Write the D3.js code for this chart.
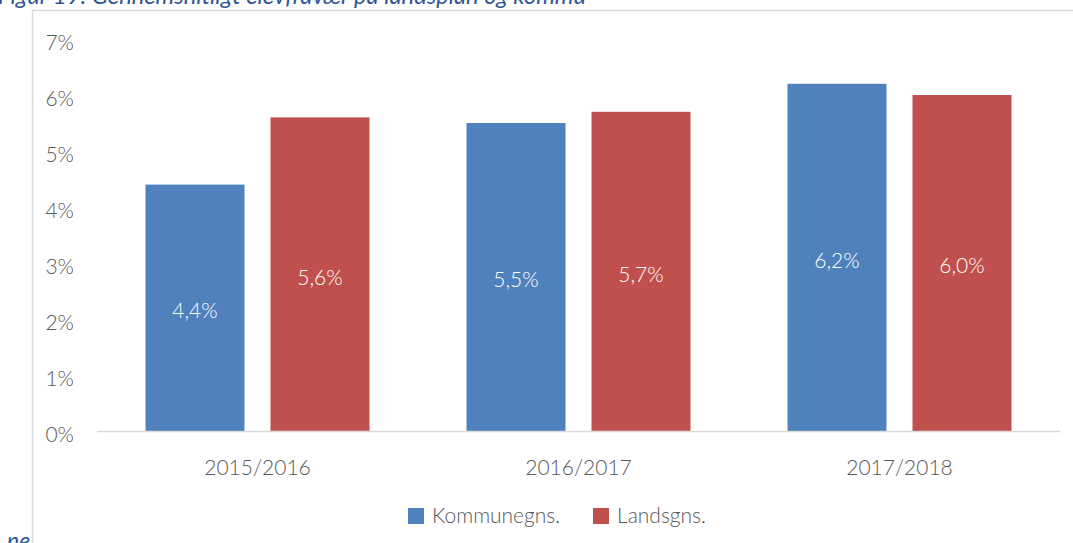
<!DOCTYPE html>
<html>
<head>
<meta charset="utf-8">
<script src="https://cdn.jsdelivr.net/npm/d3@7"></script>
<style>
    body { margin: 0; background: #fff; }
    svg { display: block; font-family: Lato, "Open Sans", sans-serif; font-weight: 300; }
</style>
</head>
<body>
<div id="chart"></div>
<script>
// Data
const years = ["2015/2016", "2016/2017", "2017/2018"];
const seriesNames = ["Kommunegns.", "Landsgns."];
const kommune = [4.4, 5.5, 6.2];
const lands = [5.6, 5.7, 6.0];
const yTicks = [0, 1, 2, 3, 4, 5, 6, 7];
const colors = ["#4f81bd", "#c0504d"];

const width = 1073;
const height = 543;
const fontSize = 21;

const svg = d3.select("#chart")
    .append("svg")
    .attr("width", width)
    .attr("height", height);

// Frame of the chart area (cut off by the crop)
svg.append("line")
    .attr("x1", 32.5).attr("x2", 32.5)
    .attr("y1", 10.5).attr("y2", height)
    .attr("stroke", "#d9d9d9").attr("stroke-width", 1.5);

svg.append("line")
    .attr("x1", 32.5).attr("x2", width)
    .attr("y1", 10.5).attr("y2", 10.5)
    .attr("stroke", "#d9d9d9").attr("stroke-width", 1.5);

// Caption fragments of the surrounding document
svg.append("text")
    .attr("x", -2)
    .attr("y", 4)
    .attr("font-style", "italic")
    .attr("font-weight", 400)
    .attr("font-size", 23)
    .attr("textLength", 588)
    .attr("lengthAdjust", "spacingAndGlyphs")
    .attr("fill", "#2f5597")
    .text("Figur 19: Gennemsnitligt elevfravær på landsplan og kommu");

svg.append("text")
    .attr("x", 7)
    .attr("y", 549)
    .attr("font-style", "italic")
    .attr("font-weight", 400)
    .attr("font-size", 23)
    .attr("fill", "#2f5597")
    .text("ne");

// Scales
const x0 = d3.scaleBand()
    .domain(years)
    .range([97, 1060]);

const x1 = d3.scaleBand()
    .domain(seriesNames)
    .range([0, x0.bandwidth()])
    .paddingInner(0.208)
    .paddingOuter(0.388);

const y = d3.scaleLinear()
    .domain([0, 7])
    .range([431, 39]);

const rows = years.map(function(year, i) {
    return {
        year: year,
        values: [
            { name: seriesNames[0], value: kommune[i] },
            { name: seriesNames[1], value: lands[i] }
        ]
    };
});

// Y tick labels
svg.append("g")
    .selectAll("text")
    .data(yTicks)
    .enter()
    .append("text")
    .attr("x", 74)
    .attr("y", function(d) { return y(d) + 4; })
    .attr("dy", "0.35em")
    .attr("text-anchor", "end")
    .attr("font-size", fontSize)
    .attr("fill", "#595959")
    .text(function(d) { return d + "%"; });

// Bars
const group = svg.append("g")
    .selectAll("g")
    .data(rows)
    .enter()
    .append("g")
    .attr("transform", function(d) { return "translate(" + x0(d.year) + ",0)"; });

group.selectAll("rect")
    .data(function(d) { return d.values; })
    .enter()
    .append("rect")
    .attr("x", function(d) { return x1(d.name); })
    .attr("y", function(d) { return y(d.value); })
    .attr("width", x1.bandwidth())
    .attr("height", function(d) { return y(0) - y(d.value); })
    .attr("fill", function(d, i) { return colors[i]; });

const fmt = d3.format(".1f");

group.selectAll("text")
    .data(function(d) { return d.values; })
    .enter()
    .append("text")
    .attr("x", function(d) { return x1(d.name) + x1.bandwidth() / 2; })
    .attr("y", function(d) { return (y(d.value) + y(0)) / 2 + 3; })
    .attr("dy", "0.35em")
    .attr("text-anchor", "middle")
    .attr("font-size", fontSize)
    .attr("fill", "#ffffff")
    .text(function(d) { return fmt(d.value).replace(".", ",") + "%"; });

// X axis line
svg.append("line")
    .attr("x1", x0.range()[0]).attr("x2", x0.range()[1])
    .attr("y1", y(0) + 0.5).attr("y2", y(0) + 0.5)
    .attr("stroke", "#d9d9d9").attr("stroke-width", 1.5);

// Category labels
svg.append("g")
    .selectAll("text")
    .data(years)
    .enter()
    .append("text")
    .attr("x", function(d) { return x0(d) + x0.bandwidth() / 2; })
    .attr("y", 468)
    .attr("dy", "0.35em")
    .attr("text-anchor", "middle")
    .attr("font-size", fontSize)
    .attr("fill", "#595959")
    .text(function(d) { return d; });

// Legend
const legend = svg.append("g");
const legendStarts = [408, 593];

seriesNames.forEach(function(name, i) {
    const item = legend.append("g")
        .attr("transform", "translate(" + legendStarts[i] + ",516)");

    item.append("rect")
        .attr("x", 0)
        .attr("y", -8)
        .attr("width", 16)
        .attr("height", 16)
        .attr("fill", colors[i]);

    item.append("text")
        .attr("x", 24)
        .attr("y", 0)
        .attr("dy", "0.35em")
        .attr("font-size", fontSize)
        .attr("fill", "#595959")
        .text(name);
});
</script>
</body>
</html>
